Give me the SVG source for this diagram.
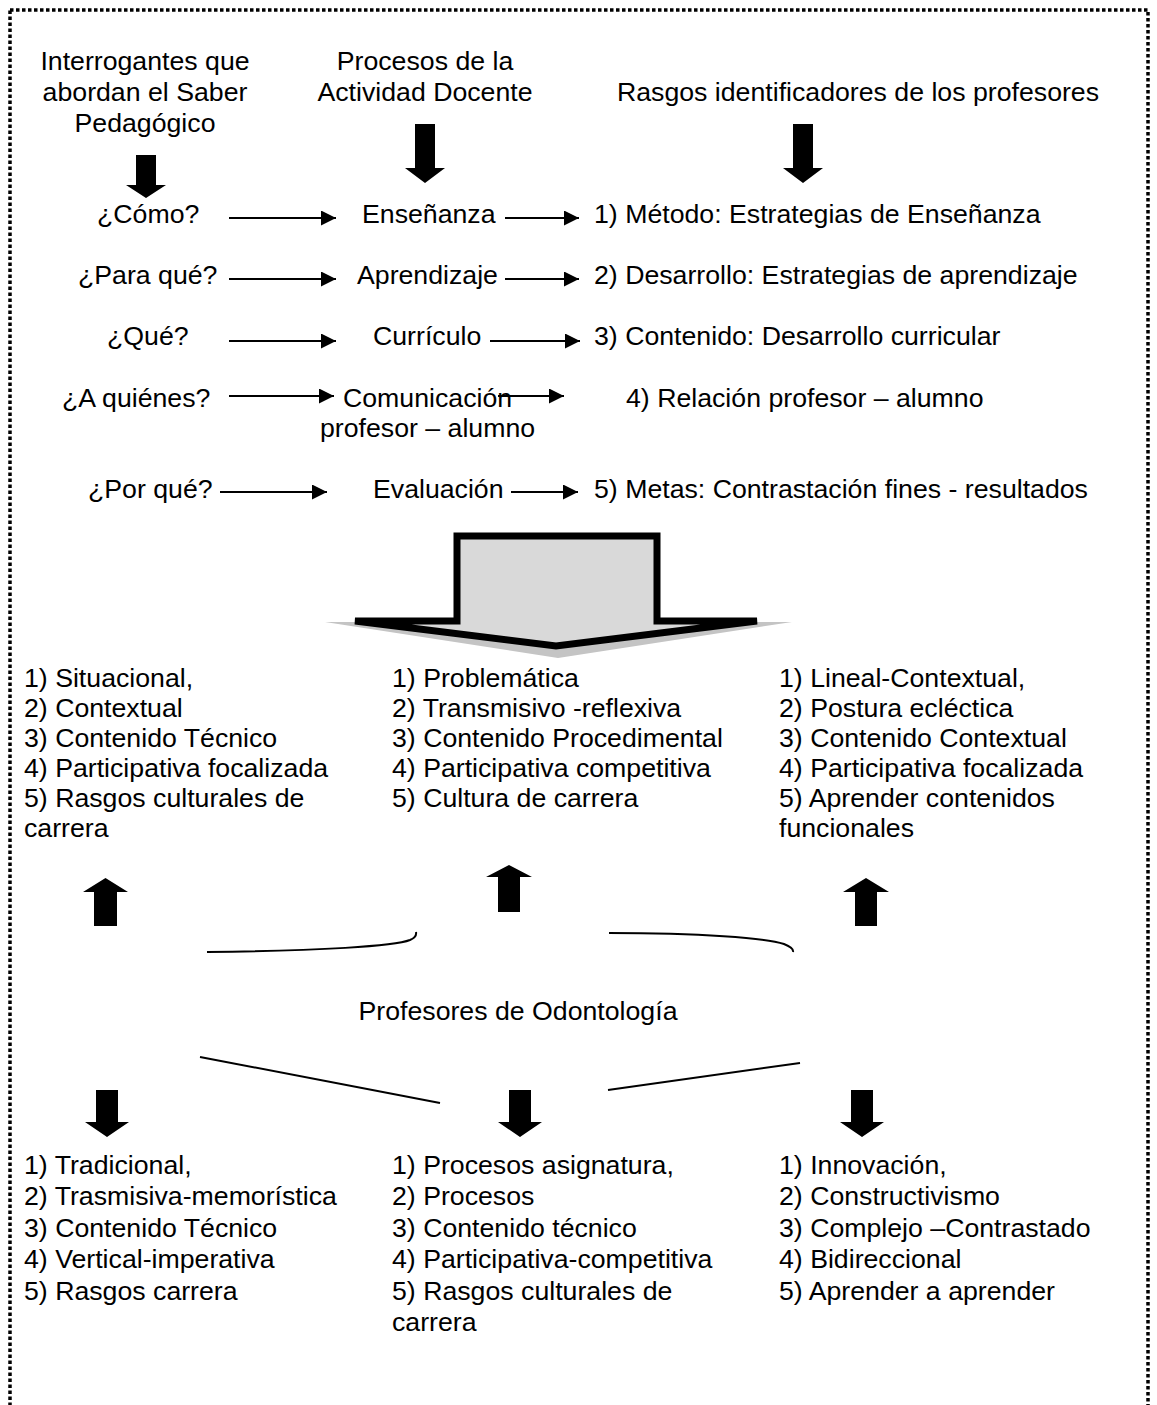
<svg xmlns="http://www.w3.org/2000/svg" width="1157" height="1405" viewBox="0 0 1157 1405">
  <defs>
    <style>
      text { font-family: "Liberation Sans", Arial, sans-serif; font-size: 26.7px; fill: #000; }
      .c { text-anchor: middle; }
      .frame { fill: none; stroke: #000; stroke-width: 3.5; stroke-dasharray: 3.5 2.5; }
      .thin { stroke: #000; stroke-width: 2; fill: none; marker-end: url(#head); }
      .fat { fill: #000; }
      .brace { fill: none; stroke: #000; stroke-width: 2; }
    </style>
    <marker id="head" markerUnits="userSpaceOnUse" markerWidth="15" markerHeight="15" refX="15" refY="7.5" orient="auto">
      <path d="M0,0 L15,7.5 L0,15 Z" fill="#000"/>
    </marker>
  </defs>

  <rect width="1157" height="1405" fill="#fff"/>
  <!-- dotted outer frame (bottom edge runs past the page) -->
  <rect class="frame" x="10" y="10" width="1138" height="1420"/>

  <!-- column headings -->
  <g id="head-interrogantes">
    <text class="c" x="145" y="70">Interrogantes que</text>
    <text class="c" x="145" y="101">abordan el Saber</text>
    <text class="c" x="145" y="132">Pedagógico</text>
  </g>
  <g id="head-procesos">
    <text class="c" x="425" y="70">Procesos de la</text>
    <text class="c" x="425" y="101">Actividad Docente</text>
  </g>
  <g id="head-rasgos">
    <text class="c" x="858" y="101">Rasgos identificadores de los profesores</text>
  </g>

  <!-- questions -->
  <g id="q1"><text x="97" y="223">¿Cómo?</text></g>
  <g id="q2"><text x="78" y="284">¿Para qué?</text></g>
  <g id="q3"><text x="107" y="345">¿Qué?</text></g>
  <g id="q4"><text x="62" y="407">¿A quiénes?</text></g>
  <g id="q5"><text x="88" y="498">¿Por qué?</text></g>

  <!-- processes -->
  <g id="p1"><text x="362" y="223">Enseñanza</text></g>
  <g id="p2"><text x="357" y="284">Aprendizaje</text></g>
  <g id="p3"><text x="373" y="345">Currículo</text></g>
  <g id="p4">
    <text x="343" y="407">Comunicación</text>
    <text x="320" y="437">profesor – alumno</text>
  </g>
  <g id="p5"><text x="373" y="498">Evaluación</text></g>

  <!-- traits -->
  <g id="r1"><text x="594" y="223">1) Método: Estrategias de Enseñanza</text></g>
  <g id="r2"><text x="594" y="284">2) Desarrollo: Estrategias de aprendizaje</text></g>
  <g id="r3"><text x="594" y="345">3) Contenido: Desarrollo curricular</text></g>
  <g id="r4"><text x="626" y="407">4) Relación profesor – alumno</text></g>
  <g id="r5"><text x="594" y="498">5) Metas: Contrastación fines - resultados</text></g>

  <!-- summary block arrow -->
  <g id="block-arrow">
    <polygon points="325,622 792,622 558,658" fill="#c4c4c4"/>
    <polygon points="457,536 657,536 657,621 757,621 556,646 355,621 457,621" fill="#d9d9d9" stroke="#000" stroke-width="7" stroke-linejoin="miter"/>
  </g>

  <!-- upper profile columns -->
  <g id="upper-left">
    <text x="24" y="687">1) Situacional,</text>
    <text x="24" y="717">2) Contextual</text>
    <text x="24" y="747">3) Contenido Técnico</text>
    <text x="24" y="777">4) Participativa focalizada</text>
    <text x="24" y="807">5) Rasgos culturales de</text>
    <text x="24" y="837">carrera</text>
  </g>
  <g id="upper-middle">
    <text x="392" y="687">1) Problemática</text>
    <text x="392" y="717">2) Transmisivo -reflexiva</text>
    <text x="392" y="747">3) Contenido Procedimental</text>
    <text x="392" y="777">4) Participativa competitiva</text>
    <text x="392" y="807">5) Cultura de carrera</text>
  </g>
  <g id="upper-right">
    <text x="779" y="687">1) Lineal-Contextual,</text>
    <text x="779" y="717">2) Postura ecléctica</text>
    <text x="779" y="747">3) Contenido Contextual</text>
    <text x="779" y="777">4) Participativa focalizada</text>
    <text x="779" y="807">5) Aprender contenidos</text>
    <text x="779" y="837">funcionales</text>
  </g>

  <!-- central node -->
  <g id="profesores">
    <text class="c" x="518" y="1020">Profesores de Odontología</text>
  </g>

  <!-- lower profile columns -->
  <g id="lower-left">
    <text x="24" y="1174">1) Tradicional,</text>
    <text x="24" y="1205">2) Trasmisiva-memorística</text>
    <text x="24" y="1237">3) Contenido Técnico</text>
    <text x="24" y="1268">4) Vertical-imperativa</text>
    <text x="24" y="1300">5) Rasgos carrera</text>
  </g>
  <g id="lower-middle">
    <text x="392" y="1174">1) Procesos asignatura,</text>
    <text x="392" y="1205">2) Procesos</text>
    <text x="392" y="1237">3) Contenido técnico</text>
    <text x="392" y="1268">4) Participativa-competitiva</text>
    <text x="392" y="1300">5) Rasgos culturales de</text>
    <text x="392" y="1331">carrera</text>
  </g>
  <g id="lower-right">
    <text x="779" y="1174">1) Innovación,</text>
    <text x="779" y="1205">2) Constructivismo</text>
    <text x="779" y="1237">3) Complejo –Contrastado</text>
    <text x="779" y="1268">4) Bidireccional</text>
    <text x="779" y="1300">5) Aprender a aprender</text>
  </g>

  <g id="connectors">
    <!-- heading arrows -->
    <polygon class="fat" points="136,155 156,155 156,185 166,185 146,198 126,185 136,185"/>
    <polygon class="fat" points="415,124 435,124 435,168 445,168 425,183 405,168 415,168"/>
    <polygon class="fat" points="793,124 813,124 813,168 823,168 803,183 783,168 793,168"/>

    <!-- question → process → trait -->
    <line class="thin" x1="229" y1="218" x2="336" y2="218"/>
    <line class="thin" x1="505" y1="218" x2="579" y2="218"/>
    <line class="thin" x1="229" y1="279" x2="336" y2="279"/>
    <line class="thin" x1="505" y1="279" x2="579" y2="279"/>
    <line class="thin" x1="229" y1="341" x2="336" y2="341"/>
    <line class="thin" x1="490" y1="341" x2="580" y2="341"/>
    <line class="thin" x1="229" y1="396" x2="334" y2="396"/>
    <line class="thin" x1="498" y1="396" x2="564" y2="396"/>
    <line class="thin" x1="220" y1="492" x2="327" y2="492"/>
    <line class="thin" x1="511" y1="492" x2="578" y2="492"/>

    <!-- up arrows to upper columns -->
    <polygon class="fat" points="94,926 117,926 117,892 128,892 105.5,878 83,892 94,892"/>
    <polygon class="fat" points="498,912 520,912 520,877 532,877 509,865 486,877 498,877"/>
    <polygon class="fat" points="855,926 877,926 877,892 889,892 866,878 843,892 855,892"/>

    <!-- braces above the central node -->
    <path class="brace" d="M207,952 C320,951 395,946 410,940 Q417,937 416,932"/>
    <path class="brace" d="M609,933 C700,933 765,938 784,944 Q794,948 793,952"/>

    <!-- lines below the central node -->
    <line class="brace" x1="200" y1="1057" x2="440" y2="1103"/>
    <line class="brace" x1="608" y1="1090" x2="800" y2="1063"/>

    <!-- down arrows to lower columns -->
    <polygon class="fat" points="96,1090 118,1090 118,1122 129,1122 107,1137 85,1122 96,1122"/>
    <polygon class="fat" points="509,1090 531,1090 531,1122 542,1122 520,1137 498,1122 509,1122"/>
    <polygon class="fat" points="851,1090 873,1090 873,1122 884,1122 862,1137 840,1122 851,1122"/>
  </g>
</svg>
